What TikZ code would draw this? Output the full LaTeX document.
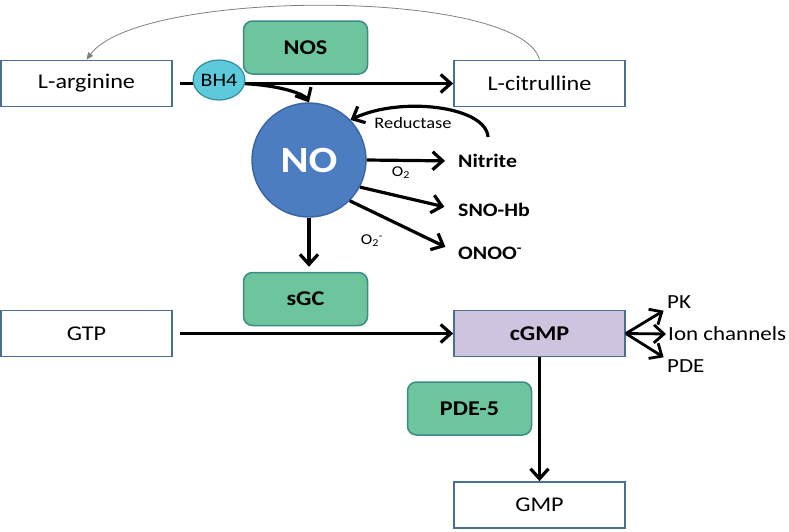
\documentclass[tikz,border=0pt]{standalone}
\usepackage{fontspec}
\setmainfont{Carlito}[FakeStretch=1.15]
\usepackage{tikz}
\usetikzlibrary{arrows.meta, positioning, shapes.geometric}
\definecolor{boxblue}{HTML}{4A6E96}
\definecolor{enzgreen}{HTML}{6CC59C}
\definecolor{enzline}{HTML}{3B8C86}
\definecolor{bhfill}{HTML}{5CCADB}
\definecolor{bhline}{HTML}{2F8E9E}
\definecolor{nofill}{HTML}{4B7DC0}
\definecolor{noline}{HTML}{3A64A2}
\definecolor{cgmpfill}{HTML}{CEC4E0}

\begin{document}
\begin{tikzpicture}[x=1pt, y=-1pt, >={Straight Barb[length=10pt,width=18pt]}]
\tikzstyle{molbox}=[rectangle,draw=boxblue,line width=1.8pt,minimum width=171pt,minimum height=46pt,font=\fontsize{21}{24}\selectfont]
\tikzstyle{enzbox}=[rectangle,rounded corners=9pt,draw=enzline,fill=enzgreen,line width=1.5pt,minimum width=124pt,minimum height=53pt,font=\bfseries\fontsize{21}{24}\selectfont]
\tikzstyle{prodlabel}=[inner sep=0pt,anchor=west,font=\bfseries\fontsize{19}{22}\selectfont]
\tikzstyle{effectlabel}=[inner sep=0pt,anchor=west,font=\fontsize{20}{23}\selectfont]
\tikzstyle{smalllabel}=[inner sep=0pt,font=\fontsize{15}{17}\selectfont]
\tikzstyle{flow}=[->,line width=3.2pt]
\useasboundingbox (0,0) rectangle (789,531);

    % substrates and products
    \node (arg) [molbox] at (86.5,83.5) {L-arginine};
    \node (cit) [molbox] at (539.5,83.5) {L-citrulline};
    \node (gtp) [molbox] at (86.5,333.5) {GTP};
    \node (cgmp) [molbox, fill=cgmpfill, font=\bfseries\fontsize{21}{24}\selectfont] at (539.5,333.5) {cGMP};
    \node (gmp) [molbox] at (539.5,505) {GMP};

    % enzymes
    \node (nos) [enzbox] at (305.5,47.5) {NOS};
    \node (sgc) [enzbox] at (305.5,299) {sGC};
    \node (pdefive) [enzbox] at (469.5,408.5) {PDE-5};

    \node (no) [circle, draw=noline, fill=nofill, line width=1.4pt, minimum size=114pt, text=white, font=\bfseries\fontsize{37}{40}\selectfont] at (309,160) {NO};

    \draw[flow, shorten <=7pt] (arg.east) -- (cit.west);
    \node (bh) [ellipse, draw=bhline, fill=bhfill, line width=1.2pt, minimum width=48pt, minimum height=40pt, inner sep=0pt, font=\fontsize{19}{21}\selectfont] at (219,80) {BH4};

    % recycling of citrulline
    \draw[gray, line width=0.8pt, -{Triangle[length=7pt,width=6pt]}] (cit.north) .. controls (520,-12) and (140,-12) .. (arg.north);

    \draw[flow] (bh.-8) .. controls (285,86) and (305,95) .. (no.north);

    % NO fates
    \node (nitrite) [prodlabel] at (458,161) {Nitrite};
    \node (snohb) [prodlabel] at (458,210) {SNO-Hb};
    \node (onoo) [prodlabel] at (458,253) {ONOO\textsuperscript{-}};
    \draw[flow, shorten >=13pt] (no.east) -- (nitrite.west);
    \draw[flow, shorten >=14pt] (no.-28) -- (snohb.west);
    \draw[flow, shorten >=14pt] (no.-45) -- (onoo.west);
    \node (otwo) [smalllabel] at (401,173) {O\textsubscript{2}};
    \node (superox) [smalllabel] at (372,241) {O\textsubscript{2}\textsuperscript{-}};

    \coordinate (redstart) at (488,137);
    \draw[flow] (redstart) .. controls (486,106) and (400,96) .. (no.44);
    \node (reductase) [inner sep=0pt, font=\fontsize{16}{18}\selectfont] at (413,123) {Reductase};

    \draw[flow, shorten >=5pt] (no.south) -- (no.south |- sgc.north);
    \draw[flow, shorten <=7pt] (gtp.east) -- (cgmp.west);
    \draw[flow] (cgmp.south) -- (gmp.north);

    % downstream targets
    \node (pk) [effectlabel] at (667,302) {PK};
    \node (ion) [effectlabel] at (668,334) {Ion channels};
    \node (pde) [effectlabel] at (667,366) {PDE};
    \draw[->, line width=2.8pt, shorten >=4pt] (cgmp.east) -- (pk.south west);
    \draw[->, line width=2.8pt, shorten >=2pt] (cgmp.east) -- (ion.west);
    \draw[->, line width=2.8pt, shorten >=4pt] (cgmp.east) -- (pde.north west);
\end{tikzpicture}
\end{document}
